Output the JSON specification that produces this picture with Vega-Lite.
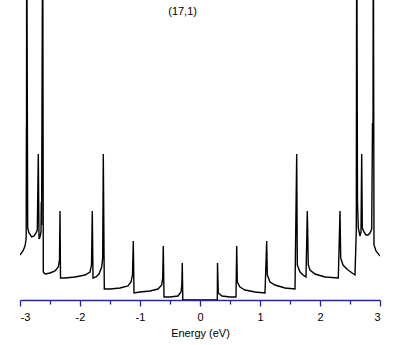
{
  "$schema": "https://vega.github.io/schema/vega-lite/v6.json",
  "autosize": "none",
  "width": 360,
  "height": 300,
  "padding": {"left": 20, "top": 0, "right": 29, "bottom": 45},
  "background": "white",
  "config": {"view": {"stroke": null}, "font": "Liberation Sans"},
  "data": {"values": [
    {"i":1,"E":-3.0,"D":0.45},{"i":2,"E":-2.95,"D":0.49},{"i":3,"E":-2.9167,"D":0.54},{"i":4,"E":-2.9,"D":0.60},
    {"i":5,"E":-2.8967,"D":0.65},{"i":6,"E":-2.8933,"D":1.73},{"i":7,"E":-2.8917,"D":1.50},{"i":8,"E":-2.8883,"D":4.0},
    {"i":9,"E":-2.8717,"D":0.72},{"i":10,"E":-2.85,"D":0.67},{"i":11,"E":-2.805,"D":0.63},{"i":12,"E":-2.7667,"D":0.64},
    {"i":13,"E":-2.7333,"D":0.67},{"i":14,"E":-2.7117,"D":0.70},{"i":15,"E":-2.695,"D":1.46},{"i":16,"E":-2.6833,"D":0.61},
    {"i":17,"E":-2.6667,"D":0.63},{"i":18,"E":-2.65,"D":0.68},{"i":19,"E":-2.645,"D":0.98},{"i":20,"E":-2.64,"D":0.75},
    {"i":21,"E":-2.6217,"D":4.0},{"i":22,"E":-2.6117,"D":0.28},{"i":23,"E":-2.5833,"D":0.26},{"i":24,"E":-2.5,"D":0.27},
    {"i":25,"E":-2.4167,"D":0.29},{"i":26,"E":-2.3617,"D":0.33},{"i":27,"E":-2.3417,"D":0.40},{"i":28,"E":-2.3333,"D":0.89},
    {"i":29,"E":-2.325,"D":0.22},{"i":30,"E":-2.25,"D":0.22},{"i":31,"E":-2.0833,"D":0.23},{"i":32,"E":-1.9167,"D":0.25},
    {"i":33,"E":-1.8333,"D":0.28},{"i":34,"E":-1.8083,"D":0.35},{"i":35,"E":-1.795,"D":0.89},{"i":36,"E":-1.7833,"D":0.22},
    {"i":37,"E":-1.7333,"D":0.23},{"i":38,"E":-1.6833,"D":0.26},{"i":39,"E":-1.6383,"D":0.33},{"i":40,"E":-1.6217,"D":0.42},
    {"i":41,"E":-1.6117,"D":1.46},{"i":42,"E":-1.595,"D":0.11},{"i":43,"E":-1.5,"D":0.11},{"i":44,"E":-1.3333,"D":0.12},
    {"i":45,"E":-1.2,"D":0.14},{"i":46,"E":-1.15,"D":0.18},{"i":47,"E":-1.125,"D":0.25},{"i":48,"E":-1.1117,"D":0.59},
    {"i":49,"E":-1.1,"D":0.07},{"i":50,"E":-1.0,"D":0.08},{"i":51,"E":-0.8333,"D":0.09},{"i":52,"E":-0.7,"D":0.11},
    {"i":53,"E":-0.6383,"D":0.15},{"i":54,"E":-0.6217,"D":0.22},{"i":55,"E":-0.6117,"D":0.54},{"i":56,"E":-0.6,"D":0.03},
    {"i":57,"E":-0.5,"D":0.03},{"i":58,"E":-0.3667,"D":0.04},{"i":59,"E":-0.3167,"D":0.08},{"i":60,"E":-0.3033,"D":0.15},
    {"i":61,"E":-0.295,"D":0.37},{"i":62,"E":-0.2867,"D":0},{"i":63,"E":0.2883,"D":0},{"i":64,"E":0.2917,"D":0.37},
    {"i":65,"E":0.305,"D":0.07},{"i":66,"E":0.3667,"D":0.04},{"i":67,"E":0.5,"D":0.03},{"i":68,"E":0.6,"D":0.03},
    {"i":69,"E":0.6117,"D":0.54},{"i":70,"E":0.6217,"D":0.18},{"i":71,"E":0.6667,"D":0.13},{"i":72,"E":0.75,"D":0.10},
    {"i":73,"E":0.9167,"D":0.08},{"i":74,"E":1.0833,"D":0.07},{"i":75,"E":1.1117,"D":0.59},{"i":76,"E":1.1217,"D":0.25},
    {"i":77,"E":1.1667,"D":0.18},{"i":78,"E":1.25,"D":0.15},{"i":79,"E":1.4167,"D":0.12},{"i":80,"E":1.5833,"D":0.11},
    {"i":81,"E":1.6117,"D":1.46},{"i":82,"E":1.6217,"D":0.35},{"i":83,"E":1.6667,"D":0.28},{"i":84,"E":1.7167,"D":0.25},
    {"i":85,"E":1.7667,"D":0.23},{"i":86,"E":1.7883,"D":0.89},{"i":87,"E":1.805,"D":0.35},{"i":88,"E":1.8333,"D":0.30},
    {"i":89,"E":1.9167,"D":0.26},{"i":90,"E":2.0833,"D":0.23},{"i":91,"E":2.305,"D":0.22},{"i":92,"E":2.3333,"D":0.89},
    {"i":93,"E":2.345,"D":0.42},{"i":94,"E":2.3833,"D":0.35},{"i":95,"E":2.4667,"D":0.30},{"i":96,"E":2.5833,"D":0.25},
    {"i":97,"E":2.605,"D":0.70},{"i":98,"E":2.6117,"D":4.0},{"i":99,"E":2.625,"D":0.98},{"i":100,"E":2.6383,"D":0.72},
    {"i":101,"E":2.6667,"D":0.64},{"i":102,"E":2.6833,"D":0.68},{"i":103,"E":2.695,"D":1.46},{"i":104,"E":2.705,"D":0.72},
    {"i":105,"E":2.7333,"D":0.68},{"i":106,"E":2.7667,"D":0.65},{"i":107,"E":2.8,"D":0.65},{"i":108,"E":2.8333,"D":0.67},
    {"i":109,"E":2.8617,"D":0.71},{"i":110,"E":2.875,"D":1.77},{"i":111,"E":2.8833,"D":1.60},{"i":112,"E":2.8883,"D":4.0},
    {"i":113,"E":2.9,"D":0.55},{"i":114,"E":2.9333,"D":0.49},{"i":115,"E":3.0,"D":0.44}
  ]},
  "resolve": {"axis": {"x": "independent"}},
  "layer": [
    {
      "mark": {"type": "line", "color": "black", "strokeWidth": 1.4, "clip": true, "interpolate": "linear"},
      "encoding": {
        "x": {"field": "E", "type": "quantitative", "scale": {"domain": [-3, 3], "nice": false, "zero": false},
          "axis": {"orient": "bottom", "values": [-3, -2, -1, 0, 1, 2, 3], "tickSize": 6, "tickColor": "#2424a8", "domainColor": "#2424a8",
            "tickWidth": 1.3, "domainWidth": 1.3, "grid": false,
            "labelExpr": "toString(datum.value)", "labelFontSize": 11, "labelColor": "black", "labelPadding": 5, "labelFont": "Liberation Sans",
            "title": "Energy (eV)", "titleFontSize": 11, "titleFontWeight": "normal", "titleColor": "black", "titlePadding": 5, "titleFont": "Liberation Sans"}},
        "y": {"field": "D", "type": "quantitative", "scale": {"domain": [0, 3], "nice": false}, "axis": null},
        "order": {"field": "i", "type": "quantitative"}
      }
    },
    {
      "mark": {"type": "line", "opacity": 0},
      "encoding": {
        "x": {"field": "E", "type": "quantitative", "scale": {"domain": [-3, 3], "nice": false, "zero": false},
          "axis": {"orient": "bottom", "values": [-2.5, -1.5, -0.5, 0.5, 1.5, 2.5], "tickSize": 4, "tickColor": "#2424a8", "tickWidth": 1.3,
            "domain": false, "labels": false, "title": null, "grid": false}},
        "y": {"field": "D", "type": "quantitative", "scale": {"domain": [0, 3], "nice": false}, "axis": null},
        "order": {"field": "i", "type": "quantitative"}
      }
    },
    {
      "data": {"values": [{"label": "(17,1)", "E": -0.29, "D": 2.883}]},
      "mark": {"type": "text", "fontSize": 11, "color": "black", "baseline": "middle", "align": "center", "font": "Liberation Sans"},
      "encoding": {
        "x": {"field": "E", "type": "quantitative", "axis": null},
        "y": {"field": "D", "type": "quantitative", "axis": null},
        "text": {"field": "label"}
      }
    }
  ]
}
